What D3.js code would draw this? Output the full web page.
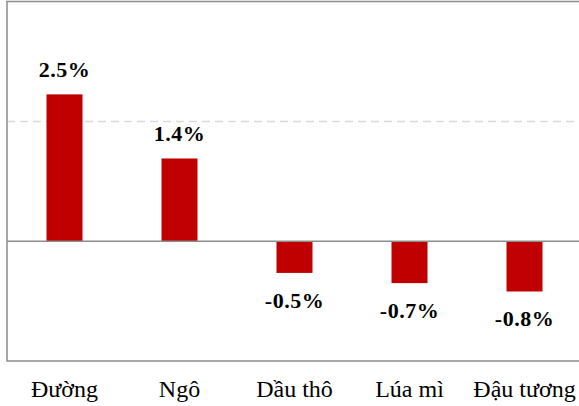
<!DOCTYPE html>
<html>
<head>
<meta charset="utf-8">
<script src="https://cdn.jsdelivr.net/npm/d3@7"></script>
<style>
  body { margin: 0; background: #fff; }
  svg { display: block; }
</style>
</head>
<body>
<svg id="chart"></svg>
<script>
const categories = ['Đường', 'Ngô', 'Dầu thô', 'Lúa mì', 'Đậu tương'];
const values = [2.45, 1.38, -0.53, -0.7, -0.84];
const valueLabels = ['2.5%', '1.4%', '-0.5%', '-0.7%', '-0.8%'];
const gridValues = [2];

const W = 579, H = 406;
const FONT = "'Liberation Serif'";
const svg = d3.select('#chart').attr('width', W).attr('height', H);

const plot = { left: 7, top: 1.5, bottom: 361, right: 582 };

const x = d3.scaleBand().domain(categories).range([plot.left, plot.right]).padding(0);
const y = d3.scaleLinear().domain([-2, 4]).range([plot.bottom, plot.top]);
const barW = 36;

// dashed grid
svg.selectAll('.grid').data(gridValues).enter().append('line')
    .attr('x1', plot.left).attr('x2', W)
    .attr('y1', d => Math.round(y(d)) + 0.5).attr('y2', d => Math.round(y(d)) + 0.5)
    .attr('stroke', '#d9d9d9').attr('stroke-width', 1.5)
    .attr('stroke-dasharray', '8,5');

// bars
svg.selectAll('.bar').data(values).enter().append('rect')
    .attr('x', (d, i) => x(categories[i]) + x.bandwidth() / 2 - barW / 2)
    .attr('width', barW)
    .attr('y', d => y(Math.max(0, d)))
    .attr('height', d => Math.abs(y(d) - y(0)))
    .attr('fill', '#c00000');

// zero line
svg.append('line')
    .attr('x1', plot.left).attr('x2', W)
    .attr('y1', y(0)).attr('y2', y(0))
    .attr('stroke', '#8c8c8c').attr('stroke-width', 1.5);

// frame
svg.append('path')
    .attr('d', `M${W},${plot.top}H${plot.left}V${plot.bottom}H${W}`)
    .attr('fill', 'none')
    .attr('stroke', '#8c8c8c').attr('stroke-width', 1.5);

// value labels
svg.selectAll('.vlabel').data(values).enter().append('text')
    .attr('x', (d, i) => x(categories[i]) + x.bandwidth() / 2)
    .attr('y', d => d >= 0 ? y(d) - 17 : y(d) + 35)
    .attr('text-anchor', 'middle')
    .style('font-family', FONT)
    .style('font-weight', 'bold')
    .style('font-size', '22px')
    .style('letter-spacing', '0.5px')
    .text((d, i) => valueLabels[i]);

// category labels
svg.selectAll('.clabel').data(categories).enter().append('text')
    .attr('x', d => x(d) + x.bandwidth() / 2)
    .attr('y', 397)
    .attr('text-anchor', 'middle')
    .style('font-family', FONT)
    .style('font-size', '24px')
    .text(d => d);
</script>
</body>
</html>
